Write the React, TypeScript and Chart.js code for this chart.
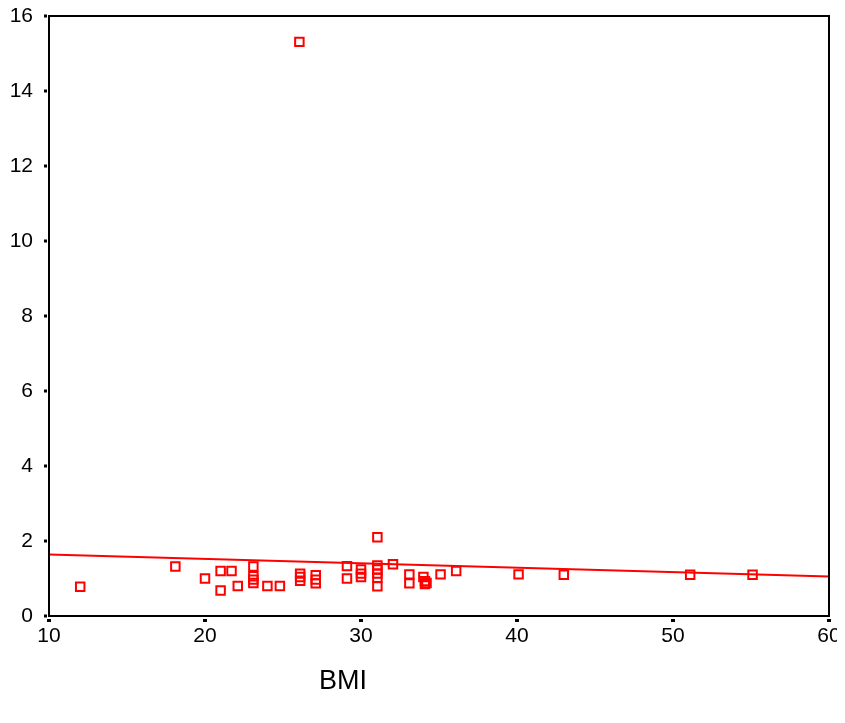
import React, { useEffect, useRef } from "react";
import { Chart, registerables } from "chart.js";

Chart.register(...registerables);

const bmi = [12, 18.1, 20, 21, 21, 21.7, 22.1, 23.1, 23.1, 23.1, 23.1, 24, 24.8, 26.05, 26.1, 26.1, 26.1, 27.1, 27.1, 27.1, 29.1, 29.1, 30, 30, 30, 31.05, 31.05, 31.05, 31.05, 31.05, 31.05, 32.05, 33.1, 33.1, 34, 34.1, 34.1, 34.2, 35.1, 36.1, 40.1, 43, 51.1, 55.1];
const ratio = [0.78, 1.32, 1.0, 1.2, 0.68, 1.2, 0.8, 1.32, 1.06, 0.97, 0.88, 0.8, 0.8, 15.31, 1.13, 1.04, 0.94, 1.09, 0.97, 0.87, 1.33, 1.0, 1.24, 1.13, 1.04, 2.1, 1.35, 1.24, 1.13, 1.02, 0.79, 1.38, 1.11, 0.87, 1.04, 0.93, 0.85, 0.88, 1.11, 1.2, 1.11, 1.1, 1.1, 1.1];
const fitX = [10, 60];
const fitY = [1.64, 1.05];
const xTicks = [10, 20, 30, 40, 50, 60];
const yTicks = [0, 2, 4, 6, 8, 10, 12, 14, 16];
const xTitle = "BMI";

const FONT = "'Liberation Sans', Arial, sans-serif";

const framePlugin = {
  id: "spssFrame",
  afterDatasetsDraw(chart: any) {
    const { ctx, chartArea } = chart;
    const xs = chart.scales.x;
    const ys = chart.scales.y;
    ctx.save();
    ctx.strokeStyle = "#000";
    ctx.lineWidth = 2;
    ctx.strokeRect(chartArea.left, chartArea.top, chartArea.right - chartArea.left, chartArea.bottom - chartArea.top);
    ctx.fillStyle = "#000";
    yTicks.forEach((v) => {
      const py = ys.getPixelForValue(v);
      ctx.fillRect(chartArea.left - 5, py - 1.5, 3, 3);
    });
    xTicks.forEach((v) => {
      const px = xs.getPixelForValue(v);
      ctx.fillRect(px - 2, chartArea.bottom + 3, 4, 3);
    });
    ctx.font = `27px ${FONT}`;
    ctx.textAlign = "center";
    ctx.textBaseline = "middle";
    ctx.fillText(xTitle, chartArea.left + 294, chartArea.bottom + 66);
    ctx.restore();
  },
};

export default function App() {
  const ref = useRef<HTMLCanvasElement>(null);
  useEffect(() => {
    if (!ref.current) return;
    const chart = new Chart(ref.current, {
      type: "scatter",
      data: {
        datasets: [
          {
            type: "line",
            data: fitX.map((x, i) => ({ x, y: fitY[i] })),
            borderColor: "#ff0000",
            borderWidth: 2,
            pointRadius: 0,
            fill: false,
          } as any,
          {
            data: bmi.map((x, i) => ({ x, y: ratio[i] })),
            pointStyle: "rect",
            pointRadius: 6,
            pointBorderWidth: 2,
            borderColor: "#ff0000",
            backgroundColor: "rgba(0,0,0,0)",
            pointBackgroundColor: "rgba(0,0,0,0)",
            pointBorderColor: "#ff0000",
          },
        ],
      },
      options: {
        animation: false,
        responsive: false,
        maintainAspectRatio: false,
        layout: { padding: { top: 4, right: 16, left: 0, bottom: 0 } },
        plugins: { legend: { display: false }, tooltip: { enabled: false } },
        scales: {
          x: {
            type: "linear",
            min: 10,
            max: 60,
            grid: { display: false, drawTicks: false },
            border: { display: false },
            afterBuildTicks: (s: any) => {
              s.ticks = xTicks.map((v) => ({ value: v }));
            },
            afterFit: (s: any) => {
              s.height = 92;
              s.paddingLeft = 0;
              s.paddingRight = 0;
            },
            ticks: {
              padding: 8,
              color: "#000",
              maxRotation: 0,
              font: { family: FONT, size: 21 },
            },
          },
          y: {
            type: "linear",
            min: 0,
            max: 16,
            grid: { display: false, drawTicks: false },
            border: { display: false },
            afterBuildTicks: (s: any) => {
              s.ticks = yTicks.map((v) => ({ value: v }));
            },
            afterFit: (s: any) => {
              s.width = 41;
              s.paddingTop = 0;
              s.paddingBottom = 0;
            },
            ticks: {
              padding: 16,
              color: "#000",
              font: { family: FONT, size: 21 },
            },
          },
        },
      },
      plugins: [framePlugin],
    });
    return () => chart.destroy();
  }, []);
  return (
    <div style={{ width: 829, height: 700, overflow: "visible" }}>
      <canvas ref={ref} width={837} height={700} style={{ display: "block" }} />
    </div>
  );
}
